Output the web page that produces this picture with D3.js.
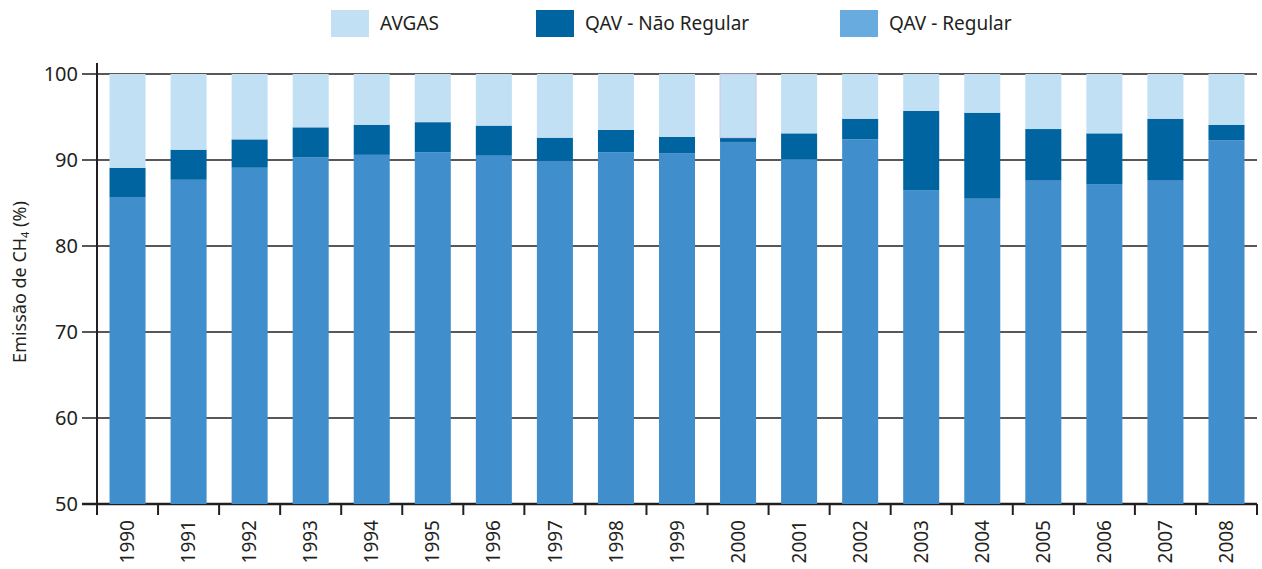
<!DOCTYPE html>
<html>
<head>
<meta charset="utf-8">
<script src="https://cdn.jsdelivr.net/npm/d3@7"></script>
<style>
    body { margin: 0; background: #fff; }
    svg { display: block; font-family: "Noto Sans", "Open Sans", sans-serif; }
</style>
</head>
<body>
<div id="chart"></div>
<script>
// data (% of CH4 emission)
const years = ["1990", "1991", "1992", "1993", "1994", "1995", "1996", "1997", "1998", "1999",
    "2000", "2001", "2002", "2003", "2004", "2005", "2006", "2007", "2008"];
const qavRegular = [85.7, 87.7, 89.1, 90.3, 90.6, 90.9, 90.5, 89.9, 90.9, 90.8,
    92.1, 90.1, 92.4, 86.5, 85.5, 87.6, 87.2, 87.6, 92.3];
const qavNaoRegular = [3.4, 3.5, 3.3, 3.5, 3.5, 3.5, 3.5, 2.7, 2.6, 1.9,
    0.5, 3.0, 2.4, 9.2, 10.0, 6.0, 5.9, 7.2, 1.8];
const avgas = [10.9, 8.8, 7.6, 6.2, 5.9, 5.6, 6.0, 7.4, 6.5, 7.3,
    7.4, 6.9, 5.2, 4.3, 4.5, 6.4, 6.9, 5.2, 5.9];
const yTicks = [50, 60, 70, 80, 90, 100];

const seriesKeys = ["qavRegular", "qavNaoRegular", "avgas"];
const colors = { avgas: "#c2e0f4", qavNaoRegular: "#0064a0", qavRegular: "#408fcc" };
const legendItems = [
    { key: "avgas", label: "AVGAS", color: "#c2e0f4", x: 331 },
    { key: "qavNaoRegular", label: "QAV - Não Regular", color: "#0064a0", x: 536 },
    { key: "qavRegular", label: "QAV - Regular", color: "#68abdf", x: 840 }
];

const rows = years.map((yr, i) => ({
    year: yr,
    qavRegular: qavRegular[i],
    qavNaoRegular: qavNaoRegular[i],
    avgas: avgas[i]
}));

const MARGIN = { LEFT: 97, RIGHT: 5, TOP: 74, BOTTOM: 65 };
const W = 1262 - MARGIN.LEFT - MARGIN.RIGHT;
const H = 569 - MARGIN.TOP - MARGIN.BOTTOM;

const svg = d3.select("#chart").append("svg")
    .attr("width", 1262)
    .attr("height", 569);
const g = svg.append("g")
    .attr("transform", `translate(${MARGIN.LEFT}, ${MARGIN.TOP})`);

const x = d3.scaleBand().domain(years).range([0, W]).paddingInner(0.41).paddingOuter(0.205);
const y = d3.scaleLinear().domain([50, 100]).range([H, 0]);

// gridlines with outward ticks (drawn under the bars)
g.append("g").selectAll("line")
    .data(yTicks)
    .join("line")
    .attr("x1", -15)
    .attr("x2", W)
    .attr("y1", d => y(d))
    .attr("y2", d => y(d))
    .attr("stroke", "#231f20")
    .attr("stroke-width", d => d === 50 ? 2.5 : 1.6);

// bars, clipped at the axis minimum
const stack = d3.stack().keys(seriesKeys);
const layers = stack(rows);
g.append("g").selectAll("g")
    .data(layers)
    .join("g")
    .attr("fill", d => colors[d.key])
    .selectAll("rect")
    .data(d => d.map(v => Object.assign(v, { key: d.key })))
    .join("rect")
    .attr("x", d => x(d.data.year))
    .attr("width", x.bandwidth())
    .attr("y", d => y(Math.min(d[1], 100)))
    .attr("height", d => y(Math.max(d[0], 50)) - y(Math.min(d[1], 100)))
    // the 2000 AVGAS block has a faint outline in the original
    .attr("stroke", d => (d.key === "avgas" && d.data.year === "2000") ? "#cbc5e8" : null)
    .attr("stroke-width", 1);

// y axis labels
const yAxis = g.append("g")
    .call(d3.axisLeft(y).tickValues(yTicks).tickSize(0).tickPadding(19));
yAxis.select(".domain").remove();
yAxis.selectAll("text")
    .attr("font-size", "20px")
    .attr("fill", "#231f20")
    .attr("font-family", "'Noto Sans', sans-serif");

// vertical axis line
g.append("line")
    .attr("x1", 0).attr("x2", 0)
    .attr("y1", -11).attr("y2", H + 11)
    .attr("stroke", "#231f20")
    .attr("stroke-width", 2);

// x ticks between categories
const step = x.step();
g.append("g").selectAll("line")
    .data(years.slice(1).concat(["end"]))
    .join("line")
    .attr("x1", (d, i) => (i + 1) * step)
    .attr("x2", (d, i) => (i + 1) * step)
    .attr("y1", H)
    .attr("y2", H + 11)
    .attr("stroke", "#231f20")
    .attr("stroke-width", 2);

// year labels
const xAxis = g.append("g")
    .attr("transform", `translate(0, ${H})`)
    .call(d3.axisBottom(x).tickSize(0));
xAxis.select(".domain").remove();
xAxis.selectAll("text")
    .attr("font-size", "19px")
    .attr("fill", "#231f20")
    .attr("font-family", "'Noto Sans', sans-serif")
    .attr("transform", "rotate(-90)")
    .attr("text-anchor", "end")
    .attr("x", -16)
    .attr("y", 0)
    .attr("dy", "0.35em");

// y-axis title
const yTitle = svg.append("text")
    .attr("transform", "translate(26, 282) rotate(-90)")
    .attr("text-anchor", "middle")
    .attr("font-size", "18px")
    .attr("fill", "#231f20");
yTitle.append("tspan").text("Emissão de CH");
yTitle.append("tspan").attr("font-size", "11px").attr("dy", 3).text("4");
yTitle.append("tspan").attr("dy", -3).text(" (%)");

// legend
const legend = svg.append("g");
const li = legend.selectAll("g")
    .data(legendItems)
    .join("g")
    .attr("transform", d => `translate(${d.x}, 10)`);
li.append("rect")
    .attr("width", 38)
    .attr("height", 27)
    .attr("fill", d => d.color);
li.append("text")
    .attr("x", 49)
    .attr("y", 20)
    .attr("font-size", "19px")
    .attr("fill", "#231f20")
    .text(d => d.label);
</script>
</body>
</html>
